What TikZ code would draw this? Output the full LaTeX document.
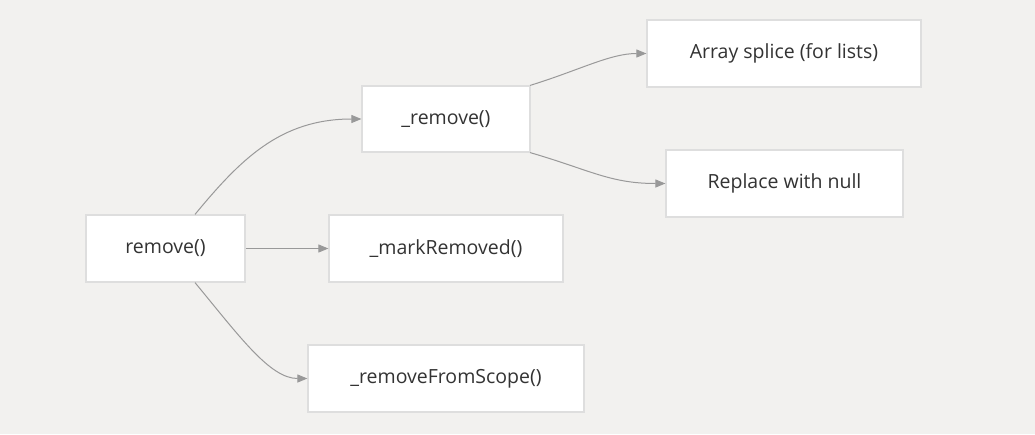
\documentclass[tikz,border=0pt]{standalone}
\usepackage{fontspec}
\setmainfont{Open Sans}
\usetikzlibrary{arrows.meta,calc}
\definecolor{bg}{HTML}{F2F1EF}
\definecolor{bd}{HTML}{DEDEDE}
\definecolor{ln}{HTML}{999999}
\definecolor{tx}{HTML}{333333}
\tikzset{
  box/.style={draw=bd, line width=1.2pt, fill=white, text=tx, font=\fontsize{19.5}{22}\selectfont, anchor=center, inner sep=0pt},
  conn/.style={draw=ln, line width=1pt, -{Triangle[length=10pt,width=8pt]}},
}
\begin{document}
\begin{tikzpicture}[x=1pt,y=-1pt]
\fill[bg] (0,0) rectangle (1035,434);
\useasboundingbox (0,0) rectangle (1035,434);
\node[box, minimum width=159pt, minimum height=67pt] (rm) at (165.5,248.5) {remove()};
\node[box, minimum width=168pt, minimum height=66pt] (ir) at (446,119) {\_remove()};
\node[box, minimum width=234pt, minimum height=67pt] (mr) at (446,248.5) {\_markRemoved()};
\node[box, minimum width=276pt, minimum height=67pt] (rs) at (446,378.5) {\_removeFromScope()};
\node[box, minimum width=274pt, minimum height=67pt] (as) at (784,53.5) {Array splice (for lists)};
\node[box, minimum width=237pt, minimum height=67pt] (rn) at (784.5,183.5) {Replace with null};
\draw[conn] ([xshift=29.5pt]rm.north) .. controls (240,160) and (280,119) .. (ir.west);
\draw[conn] (rm.east) -- (mr.west);
\draw[conn] ([xshift=29.5pt]rm.south) .. controls (240,337) and (270,378.5) .. (rs.west);
\draw[conn] ([xshift=-0.5pt]ir.north east) .. controls (580,70) and (610,53.5) .. (as.west);
\draw[conn] ([xshift=-0.5pt]ir.south east) .. controls (590,170) and (610,183.5) .. (rn.west);
\end{tikzpicture}
\end{document}
